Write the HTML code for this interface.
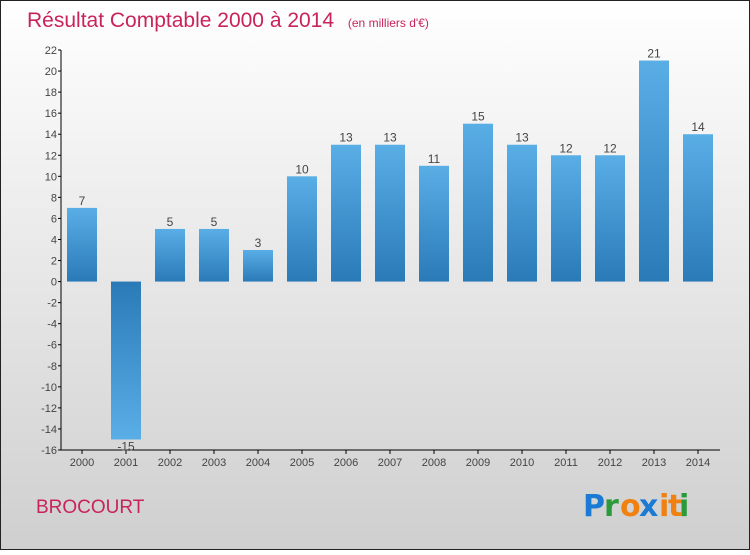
<!DOCTYPE html>
<html><head><meta charset="utf-8"><style>
html,body{margin:0;padding:0}
body{width:750px;height:550px;overflow:hidden;font-family:"Liberation Sans",sans-serif}
</style></head><body>
<svg id="chart" width="750" height="550" xmlns="http://www.w3.org/2000/svg">
<defs>
<linearGradient id="bg" x1="0" y1="0" x2="0" y2="1"><stop offset="0" stop-color="#ffffff"/><stop offset="1" stop-color="#cfcfcf"/></linearGradient>
<linearGradient id="barPos" x1="0" y1="0" x2="0" y2="1"><stop offset="0" stop-color="#5aaee6"/><stop offset="1" stop-color="#2a7ab8"/></linearGradient>
<linearGradient id="barNeg" x1="0" y1="0" x2="0" y2="1"><stop offset="0" stop-color="#2a7ab8"/><stop offset="1" stop-color="#5aaee6"/></linearGradient>
</defs>
<rect x="0.5" y="0.5" width="749" height="549" fill="url(#bg)" stroke="#222"/>
<text x="27" y="27" font-size="21" fill="#c8245a">Résultat Comptable 2000 à 2014 <tspan font-size="12" dx="8">(en milliers d'€)</tspan></text>
<text x="36" y="513" font-size="19" fill="#c8245a">BROCOURT</text>
<g font-size="30" font-weight="bold" font-family="DejaVu Sans, sans-serif">
<text x="583" y="516" fill="#1a7ad4">P</text><text x="604" y="516" fill="#2a9a3a">r</text><text x="620" y="516" fill="#f08010">o</text><text x="639" y="516" fill="#1a7ad4">x</text><text x="659" y="516" fill="#f08010">i</text><text x="668" y="516" fill="#f08010">t</text><text x="679" y="516" fill="#2a9a3a">i</text>
</g>
<g id="axes"></g><g id="bars"></g>
</svg>
<script>
const years=["2000","2001","2002","2003","2004","2005","2006","2007","2008","2009","2010","2011","2012","2013","2014"];
const values=[7,-15,5,5,3,10,13,13,11,15,13,12,12,21,14];
const yTicks=[-16,-14,-12,-10,-8,-6,-4,-2,0,2,4,6,8,10,12,14,16,18,20,22];
const NS="http://www.w3.org/2000/svg";
const yMin=-16,yMax=22,plotTop=50,plotBot=450,plotLeft=61,plotRight=720;
function yS(v){return plotBot-(v-yMin)/(yMax-yMin)*(plotBot-plotTop);}
function xS(i){return 82+i*44;}
function mk(t,a,p){const e=document.createElementNS(NS,t);for(const k in a)e.setAttribute(k,a[k]);p.appendChild(e);return e;}
const ax=document.getElementById('axes'),bs=document.getElementById('bars');
let l=mk('line',{x1:plotLeft,y1:plotTop,x2:plotLeft,y2:plotBot,stroke:'#000'},ax);


l=mk('line',{x1:plotLeft,y1:plotBot,x2:plotRight,y2:plotBot,stroke:'#000'},ax);


yTicks.forEach(v=>{
 mk('line',{x1:plotLeft-3,y1:yS(v),x2:plotLeft,y2:yS(v),stroke:'#000'},ax);
 const t=mk('text',{x:plotLeft-4,y:yS(v)+4,'font-size':11,fill:'#444','text-anchor':'end'},ax);
 t.textContent=v;
 
 
});
years.forEach((yr,i)=>{
 mk('line',{x1:xS(i),y1:plotBot,x2:xS(i),y2:plotBot+4,stroke:'#000'},ax);
 const t=mk('text',{x:xS(i),y:plotBot+16,'font-size':11,fill:'#444','text-anchor':'middle'},ax);
 t.textContent=yr;
 
 
 const v=values[i],y0=yS(0),yv=yS(v);
 const r=mk('rect',{x:xS(i)-15,y:Math.min(y0,yv),width:30,height:Math.abs(yv-y0),fill:v>=0?'url(#barPos)':'url(#barNeg)'},bs);
 
 
 const lb=mk('text',{x:xS(i),y:v>=0?yv-3:yv+11,'font-size':12,fill:'#444','text-anchor':'middle'},bs);
 lb.textContent=v;
 
 
});
</script>
</body></html>
